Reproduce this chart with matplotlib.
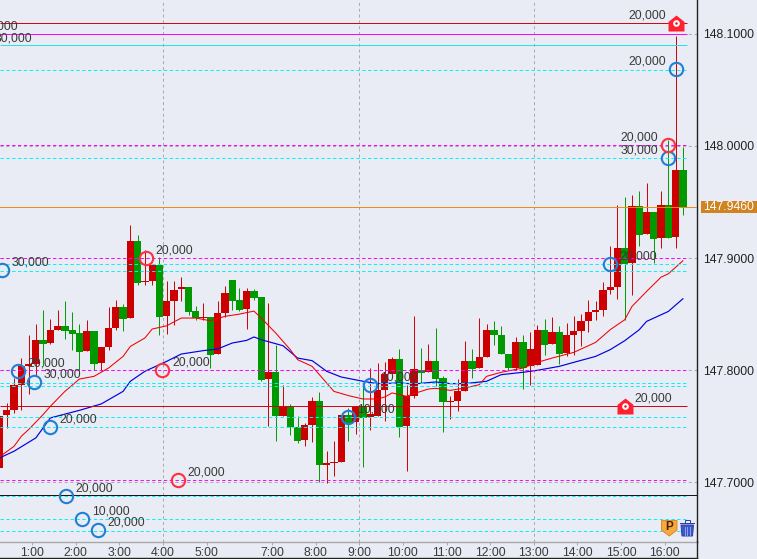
import matplotlib
matplotlib.use("Agg")
import matplotlib.pyplot as plt
from matplotlib.lines import Line2D
from matplotlib.patches import Polygon, Rectangle

plt.rcParams["font.family"] = ["Liberation Sans", "DejaVu Sans"]

# 10 minute candles
opens = [147.7128, 147.7604, 147.7648, 147.7871, 147.8040, 147.8058, 147.8272, 147.8242, 147.8361, 147.8396,
         147.8361, 147.8334, 147.8174, 147.8352, 147.8067, 147.8209, 147.8379, 147.8563, 147.8468, 147.9154,
         147.8789, 147.8797, 147.8940, 147.8486, 147.8619, 147.8720, 147.8744, 147.8530, 147.8468, 147.8477,
         147.8147, 147.8512, 147.8806, 147.8628, 147.8548, 147.8708, 147.8652, 147.7924, 147.7987, 147.7595,
         147.7672, 147.7494, 147.7381, 147.7514, 147.7728, 147.7158, 147.7176, 147.7185, 147.7604, 147.7535,
         147.7678, 147.7580, 147.7589, 147.7826, 147.7966, 147.8102, 147.7505, 147.7773, 147.8004, 147.7987,
         147.8085, 147.7933, 147.7719, 147.7728, 147.7817, 147.8085, 147.8022, 147.8120, 147.8361, 147.8313,
         147.8147, 147.8016, 147.8254, 147.8034, 147.8049, 147.8361, 147.8236, 147.8343, 147.8153, 147.8316,
         147.8352, 147.8441, 147.8521, 147.8539, 147.8717, 147.8744, 147.9091, 147.8955, 147.9466, 147.9216,
         147.9412, 147.9181, 147.9475, 147.9189, 147.9786]
highs = [147.7589, 147.7707, 147.7930, 147.8108, 147.8316, 147.8414, 147.8533, 147.8456, 147.8533, 147.8613,
         147.8518, 147.8414, 147.8450, 147.8352, 147.8209, 147.8563, 147.8628, 147.8593, 147.9296, 147.9207,
         147.9074, 147.8940, 147.9008, 147.8797, 147.8797, 147.8830, 147.8744, 147.8575, 147.8598, 147.8477,
         147.8613, 147.8753, 147.8806, 147.8732, 147.8732, 147.8726, 147.8652, 147.8598, 147.8227, 147.7871,
         147.7699, 147.7589, 147.7529, 147.7761, 147.7805, 147.7283, 147.7372, 147.7604, 147.7663, 147.7675,
         147.7871, 147.8019, 147.8064, 147.8073, 147.8117, 147.8192, 147.7871, 147.8486, 147.8200, 147.8236,
         147.8379, 147.7951, 147.7773, 147.7924, 147.8263, 147.8192, 147.8468, 147.8414, 147.8441, 147.8391,
         147.8147, 147.8296, 147.8316, 147.8340, 147.8405, 147.8459, 147.8477, 147.8391, 147.8420, 147.8480,
         147.8500, 147.8628, 147.8619, 147.8789, 147.9112, 147.9475, 147.9546, 147.9564, 147.9599, 147.9671,
         147.9412, 147.9599, 148.0054, 148.0981, 147.9991]
lows = [147.7128, 147.7485, 147.7618, 147.7648, 147.7791, 147.7945, 147.8034, 147.8236, 147.8355, 147.8278,
        147.8183, 147.8004, 147.8174, 147.8004, 147.7990, 147.8183, 147.8361, 147.8346, 147.8468, 147.8762,
        147.8762, 147.8762, 147.8316, 147.8325, 147.8405, 147.8613, 147.8495, 147.8450, 147.8450, 147.8019,
        147.8147, 147.8474, 147.8539, 147.8524, 147.8370, 147.8628, 147.7901, 147.7500, 147.7366, 147.7595,
        147.7419, 147.7351, 147.7321, 147.7357, 147.7001, 147.6995, 147.7054, 147.7185, 147.7366, 147.7434,
        147.7134, 147.7464, 147.7589, 147.7544, 147.7966, 147.7402, 147.7099, 147.7752, 147.7886, 147.7987,
        147.7856, 147.7452, 147.7568, 147.7639, 147.7817, 147.7933, 147.8022, 147.8120, 147.8227, 147.8141,
        147.8004, 147.8004, 147.7832, 147.7871, 147.8049, 147.8135, 147.8236, 147.8058, 147.8129, 147.8138,
        147.8218, 147.8337, 147.8450, 147.8486, 147.8682, 147.8637, 147.8450, 147.8673, 147.9109, 147.9216,
        147.8955, 147.9091, 147.9181, 147.9091, 147.9386]
closes = [147.7589, 147.7648, 147.7865, 147.8034, 147.8058, 147.8272, 147.8236, 147.8361, 147.8396, 147.8352,
          147.8325, 147.8165, 147.8352, 147.8058, 147.8209, 147.8379, 147.8563, 147.8459, 147.9154, 147.8780,
          147.8797, 147.8940, 147.8477, 147.8619, 147.8717, 147.8744, 147.8521, 147.8468, 147.8477, 147.8138,
          147.8512, 147.8691, 147.8619, 147.8539, 147.8708, 147.8646, 147.7915, 147.7987, 147.7589, 147.7672,
          147.7494, 147.7372, 147.7511, 147.7728, 147.7152, 147.7173, 147.7185, 147.7604, 147.7529, 147.7675,
          147.7574, 147.7612, 147.7826, 147.7966, 147.8102, 147.7497, 147.7773, 147.8013, 147.7978, 147.8085,
          147.7924, 147.7719, 147.7728, 147.7817, 147.8085, 147.8013, 147.8120, 147.8361, 147.8313, 147.8141,
          147.8016, 147.8254, 147.8019, 147.8192, 147.8361, 147.8227, 147.8343, 147.8147, 147.8316, 147.8352,
          147.8441, 147.8521, 147.8539, 147.8717, 147.8744, 147.9091, 147.8946, 147.9466, 147.9207, 147.9412,
          147.9172, 147.9475, 147.9181, 147.9786, 147.9460]

fast_ma_bars = [0, 2, 3, 4, 6, 7, 9, 11, 13, 15, 17, 18, 20, 21, 23, 25, 27, 29, 31, 33, 35, 36, 38, 40, 41, 43, 45,
                46, 48, 50, 52, 53, 54, 56, 57, 59, 60, 62, 64, 66, 67, 69, 72, 74, 76, 79, 82, 84, 86, 87, 89, 91,
                92, 94]
fast_ma = [147.7226, 147.7321, 147.7410, 147.7470, 147.7604, 147.7678, 147.7811, 147.7921, 147.7945, 147.8019,
           147.8123, 147.8212, 147.8287, 147.8367, 147.8396, 147.8465, 147.8465, 147.8441, 147.8480, 147.8500,
           147.8527, 147.8465, 147.8331, 147.8183, 147.8094, 147.8034, 147.7886, 147.7811, 147.7773, 147.7743,
           147.7743, 147.7761, 147.7797, 147.7767, 147.7791, 147.7832, 147.7838, 147.7820, 147.7841, 147.7871,
           147.7945, 147.7981, 147.8019, 147.8070, 147.8108, 147.8159, 147.8248, 147.8361, 147.8450, 147.8569,
           147.8702, 147.8830, 147.8860, 147.8976]
slow_ma_bars = [0, 2, 5, 7, 11, 14, 17, 18, 20, 23, 25, 28, 30, 32, 34, 35, 36, 39, 41, 43, 45, 47, 50, 52, 55, 57,
                60, 62, 64, 67, 69, 72, 74, 77, 79, 82, 84, 86, 88, 89, 92, 94]
slow_ma = [147.7217, 147.7277, 147.7396, 147.7574, 147.7642, 147.7699, 147.7811, 147.7901, 147.7990, 147.8079,
           147.8144, 147.8174, 147.8189, 147.8242, 147.8266, 147.8296, 147.8272, 147.8218, 147.8108, 147.8085,
           147.7990, 147.7939, 147.7901, 147.7880, 147.7886, 147.7877, 147.7895, 147.7880, 147.7880, 147.7901,
           147.7960, 147.7981, 147.7999, 147.8034, 147.8070, 147.8123, 147.8183, 147.8263, 147.8361, 147.8435,
           147.8524, 147.8637]

# order lines
stop_lines = [148.1095, 147.7683]
magenta_solid = [148.0999]
cyan_solid = [148.0898]
magenta_dashed = [148.0005, 147.9000, 147.8000, 147.7020]
cyan_dashed = [148.0682, 147.9893, 147.8943, 147.8889, 147.7889, 147.7862, 147.7580, 147.7491, 147.6875,
               147.6670, 147.6568]
black_line = 147.6889
current_price = 147.9460

# open order markers
blue_bars = [0.30, 2.50, 4.70, 6.95, 9.15, 11.35, 13.50, 47.90, 50.96, 83.96, 93.05, 91.95]
blue_prices = [147.8894, 147.7996, 147.7895, 147.7496, 147.6878, 147.6675, 147.6574, 147.7583, 147.7868, 147.8945,
               148.0687, 147.9890]
blue_sizes = ["30,000", "20,000", "30,000", "20,000", "20,000", "10,000", "20,000", "10,000", "10,000", "20,000",
              "20,000", "30,000"]
red_bars = [20.10, 22.40, 24.50, 91.95]
red_prices = [147.9001, 147.8002, 147.7021, 148.0006]
red_sizes = ["20,000", "20,000", "20,000", "20,000"]
house_bars = [93.05, 86.04]
house_prices = [148.1095, 147.7683]
house_sizes = ["20,000", "20,000"]

price_ticks = [147.7, 147.8, 147.9, 148.0, 148.1]
price_labels = ["147.7000", "147.8000", "147.9000", "148.0000", "148.1000"]
time_ticks = [4.5, 10.5, 16.5, 22.5, 28.5, 37.5, 43.5, 49.5, 55.5, 61.5, 67.5, 73.5, 79.5, 85.5, 91.5]
time_labels = ["1:00", "2:00", "3:00", "4:00", "5:00", "7:00", "8:00", "9:00", "10:00", "11:00", "12:00", "13:00",
               "14:00", "15:00", "16:00"]
grid_times = [22.5, 49.5, 73.5]

BG = "#e9ecf4"
TXT = "#3a3a3a"
LAST = 94.5
LW = 0.7

fig = plt.figure(figsize=(7.57, 5.59), dpi=100, facecolor=BG)
ax = fig.add_axes([0, (559 - 541.7) / 559, 697 / 757, 541.7 / 559], facecolor=BG)
ax.set_xlim(0.07, 95.94)
ax.set_ylim(147.6470, 148.1302)

for s in ["top", "left"]:
    ax.spines[s].set_visible(False)
ax.spines["right"].set_color("#222222")
ax.spines["right"].set_linewidth(1.0)
ax.spines["bottom"].set_color("#a8a8a8")
ax.spines["bottom"].set_linewidth(1.0)

ax.yaxis.tick_right()
ax.set_yticks(price_ticks)
ax.set_yticklabels(price_labels, fontsize=8.8, color="#222222")
ax.tick_params(axis="y", length=0, pad=4.3)
ax.set_xticks(time_ticks)
ax.set_xticklabels(time_labels, fontsize=8.8, color=TXT)
ax.tick_params(axis="x", length=2.5, width=LW, color="#a8a8a8", pad=1.5)

# grid
ax.hlines(price_ticks, 0.07, 95.94, colors="#a8a8a8", linewidth=LW, linestyles=[(0, (3, 3))], snap=True, zorder=1)
ax.vlines(grid_times, 147.6470, 148.1302, colors="#a8a8a8", linewidth=LW, linestyles=[(0, (3, 3))], snap=True, zorder=1)

# candles
for i in range(len(opens)):
    col = "#cc0000" if closes[i] >= opens[i] else "#009900"
    ax.vlines(i, lows[i], highs[i], colors=col, linewidth=LW, snap=True, zorder=2)
    ax.bar(i, abs(closes[i] - opens[i]), bottom=min(opens[i], closes[i]), width=1.0, color=col, linewidth=0, zorder=3)

# moving averages
ax.plot(slow_ma_bars, slow_ma, color="#0000e0", linewidth=0.85, zorder=4)
ax.plot(fast_ma_bars, fast_ma, color="#f00000", linewidth=0.75, zorder=4)

# order lines
ax.hlines(cyan_dashed, 0.07, LAST, colors="#00f4f4", linewidth=LW, linestyles=[(0, (3.5, 2.5))], snap=True, zorder=5)
ax.hlines(magenta_dashed, 0.07, LAST, colors="#ff00ff", linewidth=LW, linestyles=[(0, (3.5, 2.5))], snap=True, zorder=5)
ax.hlines(cyan_solid, 0.07, LAST, colors="#20e4e4", linewidth=LW, snap=True, zorder=5)
ax.hlines(magenta_solid, 0.07, LAST, colors="#ff00ff", linewidth=LW, snap=True, zorder=5)
ax.hlines(stop_lines, 0.07, LAST, colors="#d00010", linewidth=LW, snap=True, zorder=5)
ax.axhline(black_line, color="#111111", linewidth=LW, snap=True, zorder=5)
ax.axhline(current_price, color="#f08a10", linewidth=LW, snap=True, zorder=5)


def size_label(bar, price, text):
    # right hand side orders get the label on the left of the marker
    if bar > 90:
        ax.annotate(text, (bar, price), xytext=(-7, 5.3), textcoords="offset points", ha="right", va="center",
                    fontsize=8.8, color=TXT, zorder=8)
    else:
        ax.annotate(text, (bar, price), xytext=(7, 5.3), textcoords="offset points", ha="left", va="center",
                    fontsize=8.8, color=TXT, zorder=8)


ax.plot(blue_bars, blue_prices, "o", ms=9.6, mfc="none", mec="#1f7fd6", mew=1.5, clip_on=False, zorder=6)
ax.plot(red_bars, red_prices, "o", ms=9.6, mfc="none", mec="#ff3040", mew=1.5, zorder=6)
house = [(-1, -1), (1, -1), (1, 0.2), (0, 1), (-1, 0.2), (-1, -1)]
ax.plot(house_bars, house_prices, linestyle="none", marker=house, ms=11.5, mfc="#ff2030", mec="none", zorder=6)
ax.plot(house_bars, house_prices, "o", ms=4.8, mfc="white", mec="none", zorder=7)
ax.plot(house_bars, house_prices, "o", ms=1.8, mfc="#e01020", mec="none", zorder=7)

for b, p, t in zip(blue_bars, blue_prices, blue_sizes):
    size_label(b, p, t)
for b, p, t in zip(red_bars, red_prices, red_sizes):
    size_label(b, p, t)
for b, p, t in zip(house_bars, house_prices, house_sizes):
    size_label(b, p, t)

# labels of orders that sit off the left edge
ax.text(-2.68, 148.1062, "20,000", fontsize=8.8, color=TXT, va="center", clip_on=False, zorder=8)
ax.text(-0.62, 148.0963, "30,000", fontsize=8.8, color=TXT, va="center", clip_on=False, zorder=8)

# pixel overlay for frame and icons
ov = fig.add_axes([0, 0, 1, 1], facecolor="none")
ov.set_xlim(0, 757)
ov.set_ylim(559, 0)
ov.axis("off")
ov.add_line(Line2D([0, 697], [558.3, 558.3], color="#222222", linewidth=1.0))
ov.add_line(Line2D([697, 697], [541, 558.3], color="#222222", linewidth=1.0))

ov.add_patch(Rectangle((700.7, 200.7), 56.3, 12, facecolor="#d0841f", edgecolor="none"))
ov.text(728.8, 206.8, "147.9460", color="white", fontsize=8.8, ha="center", va="center")

ov.add_patch(Polygon([(661.5, 520.5), (677, 520.5), (677, 530), (669.3, 536), (661.5, 530)], closed=True,
                     facecolor="#f8a840", edgecolor="#e08820", linewidth=0.7))
ov.text(669.3, 527, "P", color="#4a2400", fontsize=8.5, fontweight="bold", ha="center", va="center")

ov.add_patch(Rectangle((679.5, 522.5), 15.5, 1.6, facecolor="#2a3fa8", edgecolor="none"))
ov.add_patch(Rectangle((684.5, 520.3), 5.5, 2.2, facecolor="none", edgecolor="#2a3fa8", linewidth=0.7))
ov.add_patch(Polygon([(681, 525), (693.5, 525), (692.5, 536), (682, 536)], closed=True,
                     facecolor="#3d56c8", edgecolor="#2a3fa8", linewidth=0.7))
for tx in [684.5, 687.3, 690]:
    ov.add_line(Line2D([tx, tx], [526.5, 534.5], color="#8ea0e8", linewidth=0.7))

fig.savefig("out.png", dpi=100, facecolor=BG)
plt.close(fig)
